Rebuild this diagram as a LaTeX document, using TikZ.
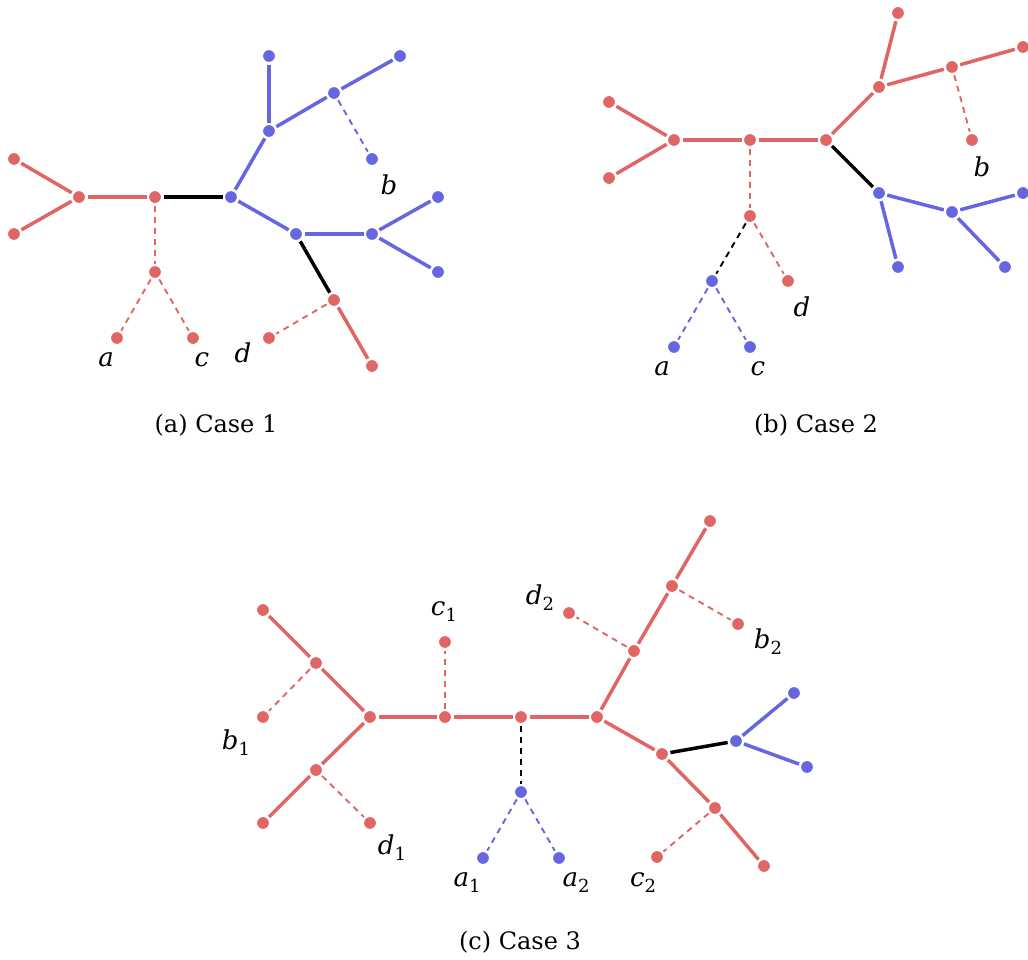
\documentclass[tikz,border=0pt]{standalone}
\usepackage{fontspec}
\setmainfont{DejaVu Serif}
\definecolor{rd}{RGB}{224,102,102}
\definecolor{bl}{RGB}{102,102,224}
\newcommand{\lb}[2]{\textit{#1}\raisebox{-0.45ex}{\fontsize{9}{10}\selectfont #2}}
\begin{document}
\begin{tikzpicture}[x=0.5pt,y=-0.5pt,
  v/.style={circle,inner sep=0pt,minimum size=7.25pt,draw=white,line width=1.25pt},
  rv/.style={v,fill=rd}, bv/.style={v,fill=bl},
  se/.style={line width=1.75pt},
  de/.style={line width=0.95pt,dash pattern=on 3pt off 2.5pt},
  lbl/.style={inner sep=0pt,font=\fontsize{13}{15}\selectfont},
  captxt/.style={inner sep=0pt,font=\fontsize{12}{14}\selectfont}]
\useasboundingbox (0,0) rectangle (1028,959);
% ---------------- (a) ----------------
\node[rv] (aL1) at (14,159) {};
\node[rv] (aL2) at (14,234) {};
\node[rv] (aN1) at (79,197) {};
\node[rv] (aN2) at (155,197) {};
\node[rv] (aN3) at (155,272) {};
\node[rv] (aa) at (117,338) {};
\node[rv] (ac) at (193,338) {};
\node[bv] (aB1) at (231,197) {};
\node[bv] (aB2) at (269,131) {};
\node[bv] (aB3) at (269,56) {};
\node[bv] (aB4) at (334,93) {};
\node[bv] (aB5) at (400,56) {};
\node[bv] (ab) at (372,159) {};
\node[bv] (aB6) at (296,234) {};
\node[bv] (aB7) at (372,234) {};
\node[bv] (aB8) at (438,197) {};
\node[bv] (aB9) at (438,272) {};
\node[rv] (aR) at (334,300) {};
\node[rv] (ad) at (269,338) {};
\node[rv] (aR2) at (372,366) {};
\draw[se,rd] (aL1) -- (aN1);
\draw[se,rd] (aL2) -- (aN1);
\draw[se,rd] (aN1) -- (aN2);
\draw[se,black] (aN2) -- (aB1);
\draw[de,rd] (aN2) -- (aN3);
\draw[de,rd] (aN3) -- (aa);
\draw[de,rd] (aN3) -- (ac);
\draw[se,bl] (aB1) -- (aB2);
\draw[se,bl] (aB2) -- (aB3);
\draw[se,bl] (aB2) -- (aB4);
\draw[se,bl] (aB4) -- (aB5);
\draw[de,bl] (aB4) -- (ab);
\draw[se,bl] (aB1) -- (aB6);
\draw[se,bl] (aB6) -- (aB7);
\draw[se,bl] (aB7) -- (aB8);
\draw[se,bl] (aB7) -- (aB9);
\draw[se,black] (aB6) -- (aR);
\draw[de,rd] (aR) -- (ad);
\draw[se,rd] (aR) -- (aR2);
\node[lbl] (la) at (106,360) {\textit{a}};
\node[lbl] (lc) at (202,360) {\textit{c}};
\node[lbl] (ld) at (243,353) {\textit{d}};
\node[lbl] (lb) at (389,185) {\textit{b}};
\node[captxt] (capa) at (216,425) {(a) Case 1};
% ---------------- (b) ----------------
\node[rv] (bL1) at (609,102) {};
\node[rv] (bL2) at (609,178) {};
\node[rv] (bN1) at (674,140) {};
\node[rv] (bN2) at (750,140) {};
\node[rv] (bN3) at (826,140) {};
\node[rv] (bN4) at (879,87) {};
\node[rv] (bT) at (898,13) {};
\node[rv] (bN5) at (952,67) {};
\node[rv] (bRt) at (1023,47) {};
\node[rv] (bb) at (972,140) {};
\node[bv] (bB1) at (879,193) {};
\node[bv] (bB2) at (898,267) {};
\node[bv] (bB3) at (952,212) {};
\node[bv] (bB4) at (1023,193) {};
\node[bv] (bB5) at (1005,267) {};
\node[rv] (bR) at (750,216) {};
\node[bv] (bBl) at (712,281) {};
\node[rv] (bd) at (788,281) {};
\node[bv] (ba) at (674,347) {};
\node[bv] (bc) at (750,347) {};
\draw[se,rd] (bL1) -- (bN1);
\draw[se,rd] (bL2) -- (bN1);
\draw[se,rd] (bN1) -- (bN2);
\draw[se,rd] (bN2) -- (bN3);
\draw[de,rd] (bN2) -- (bR);
\draw[de,black] (bR) -- (bBl);
\draw[de,rd] (bR) -- (bd);
\draw[de,bl] (bBl) -- (ba);
\draw[de,bl] (bBl) -- (bc);
\draw[se,rd] (bN3) -- (bN4);
\draw[se,rd] (bN4) -- (bT);
\draw[se,rd] (bN4) -- (bN5);
\draw[se,rd] (bN5) -- (bRt);
\draw[de,rd] (bN5) -- (bb);
\draw[se,black] (bN3) -- (bB1);
\draw[se,bl] (bB1) -- (bB2);
\draw[se,bl] (bB1) -- (bB3);
\draw[se,bl] (bB3) -- (bB4);
\draw[se,bl] (bB3) -- (bB5);
\node[lbl] (lbb) at (982,167) {\textit{b}};
\node[lbl] (lbd) at (802,307) {\textit{d}};
\node[lbl] (lba) at (662,369) {\textit{a}};
\node[lbl] (lbc) at (758,369) {\textit{c}};
\node[captxt] (capb) at (816,425) {(b) Case 2};
% ---------------- (c) ----------------
\node[rv] (cTL) at (263,610) {};
\node[rv] (cP1) at (316,663) {};
\node[rv] (cb1) at (263,717) {};
\node[rv] (cH) at (370,717) {};
\node[rv] (cP2) at (316,770) {};
\node[rv] (cBL) at (263,823) {};
\node[rv] (cd1) at (370,823) {};
\node[rv] (cM1) at (445,717) {};
\node[rv] (cc1) at (445,642) {};
\node[rv] (cM2) at (521,717) {};
\node[bv] (cBu) at (521,792) {};
\node[bv] (ca1) at (483,858) {};
\node[bv] (ca2) at (559,858) {};
\node[rv] (cM3) at (597,717) {};
\node[rv] (cQ1) at (634,651) {};
\node[rv] (cQ2) at (672,586) {};
\node[rv] (cTop) at (710,521) {};
\node[rv] (cb2) at (738,624) {};
\node[rv] (cd2) at (569,613) {};
\node[rv] (cQ3) at (662,754) {};
\node[bv] (cX) at (736,741) {};
\node[bv] (cXt) at (794,693) {};
\node[bv] (cXb) at (807,767) {};
\node[rv] (cQ4) at (715,808) {};
\node[rv] (cc2) at (657,857) {};
\node[rv] (cBot) at (764,866) {};
\draw[se,rd] (cTL) -- (cP1);
\draw[se,rd] (cP1) -- (cH);
\draw[se,rd] (cH) -- (cP2);
\draw[se,rd] (cP2) -- (cBL);
\draw[de,rd] (cP1) -- (cb1);
\draw[de,rd] (cP2) -- (cd1);
\draw[se,rd] (cH) -- (cM1);
\draw[se,rd] (cM1) -- (cM2);
\draw[se,rd] (cM2) -- (cM3);
\draw[de,rd] (cM1) -- (cc1);
\draw[de,black] (cM2) -- (cBu);
\draw[de,bl] (cBu) -- (ca1);
\draw[de,bl] (cBu) -- (ca2);
\draw[se,rd] (cM3) -- (cQ1);
\draw[se,rd] (cQ1) -- (cQ2);
\draw[se,rd] (cQ2) -- (cTop);
\draw[de,rd] (cQ1) -- (cd2);
\draw[de,rd] (cQ2) -- (cb2);
\draw[se,rd] (cM3) -- (cQ3);
\draw[se,black] (cQ3) -- (cX);
\draw[se,bl] (cX) -- (cXt);
\draw[se,bl] (cX) -- (cXb);
\draw[se,rd] (cQ3) -- (cQ4);
\draw[se,rd] (cQ4) -- (cBot);
\draw[de,rd] (cQ4) -- (cc2);
\node[lbl] (lc1) at (444,612) {\lb{c}{1}};
\node[lbl] (ld2) at (540,598) {\lb{d}{2}};
\node[lbl] (lb2) at (768,642) {\lb{b}{2}};
\node[lbl] (lb1) at (236,743) {\lb{b}{1}};
\node[lbl] (ld1) at (392,848) {\lb{d}{1}};
\node[lbl] (la1) at (467,883) {\lb{a}{1}};
\node[lbl] (la2) at (576,883) {\lb{a}{2}};
\node[lbl] (lc2) at (643,883) {\lb{c}{2}};
\node[captxt] (capc) at (520,942) {(c) Case 3};
\end{tikzpicture}
\end{document}
